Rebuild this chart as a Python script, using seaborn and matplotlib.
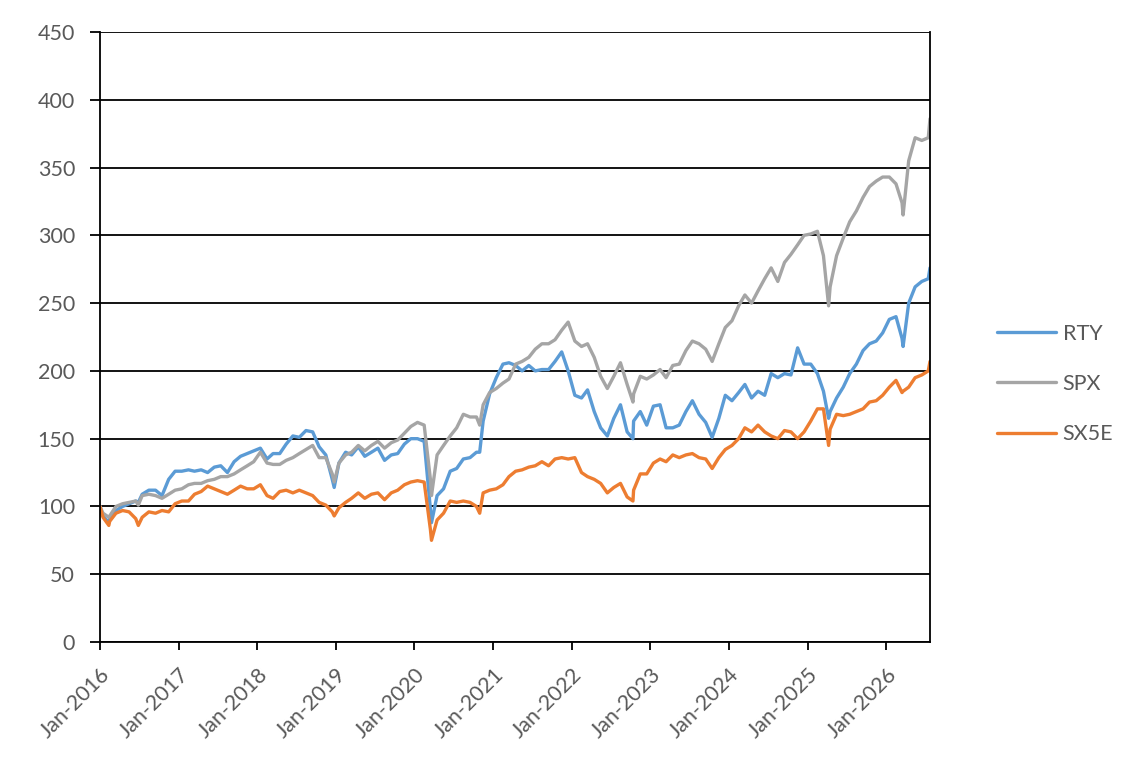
import numpy as np
import pandas as pd
import matplotlib
matplotlib.use("Agg")
import matplotlib.pyplot as plt
import matplotlib.dates as mdates
from matplotlib.lines import Line2D
import seaborn as sns

# ---- data (monthly mid-month levels) ----
start_date = "2016-01-01"
end_date = "2026-07-23"
start_value = 100
rty_end, spx_end, sx5e_end = 276, 386, 207

rty = [93, 91, 97, 100, 102, 104, 109, 112, 112, 108, 120, 126,
       126, 127, 126, 127, 125, 129, 130, 125, 133, 137, 139, 141,
       143, 135, 139, 139, 146, 152, 151, 156, 155, 144, 138, 120,
       132, 140, 138, 144, 137, 140, 143, 134, 138, 139, 146, 150,
       150, 148, 98, 108, 113, 126, 128, 135, 136, 140, 163, 183,
       195, 205, 206, 204, 200, 204, 200, 201, 201, 207, 214, 200,
       182, 180, 186, 170, 158, 152, 165, 175, 155, 163, 170, 160,
       174, 175, 158, 158, 160, 170, 178, 168, 162, 151, 165, 182,
       178, 184, 190, 180, 185, 182, 198, 195, 198, 197, 217, 205,
       205, 198, 185, 170, 180, 188, 198, 205, 215, 220, 222, 228,
       238, 240, 224, 250, 262, 266, 268]
spx = [95, 93, 100, 102, 103, 104, 108, 109, 108, 106, 109, 112,
       113, 116, 117, 117, 119, 120, 122, 122, 124, 127, 130, 133,
       140, 132, 131, 131, 134, 136, 139, 142, 145, 136, 136, 124,
       132, 138, 140, 145, 141, 145, 148, 143, 147, 149, 154, 159,
       162, 160, 120, 138, 145, 152, 158, 168, 166, 166, 175, 184,
       187, 191, 194, 205, 207, 210, 216, 220, 220, 223, 230, 236,
       222, 218, 220, 210, 196, 187, 196, 206, 190, 183, 196, 194,
       197, 201, 195, 204, 205, 215, 222, 220, 216, 207, 220, 232,
       237, 248, 256, 250, 259, 268, 276, 266, 280, 286, 293, 300,
       301, 303, 285, 262, 285, 298, 310, 318, 328, 336, 340, 343,
       343, 338, 324, 355, 372, 370, 372]
sx5e = [92, 89, 95, 97, 96, 91, 92, 96, 95, 97, 96, 102,
        104, 104, 109, 111, 115, 113, 111, 109, 112, 115, 113, 113,
        116, 108, 106, 111, 112, 110, 112, 110, 108, 103, 101, 96,
        99, 103, 106, 110, 106, 109, 110, 105, 110, 112, 116, 118,
        119, 118, 83, 90, 95, 104, 103, 104, 103, 100, 110, 112,
        113, 116, 122, 126, 127, 129, 130, 133, 130, 135, 136, 135,
        136, 125, 122, 120, 117, 110, 114, 117, 107, 112, 124, 124,
        132, 135, 133, 138, 136, 138, 139, 136, 135, 128, 136, 142,
        145, 150, 158, 155, 160, 155, 152, 150, 156, 155, 150, 155,
        163, 172, 172, 157, 168, 167, 168, 170, 172, 177, 178, 182,
        188, 193, 184, 188, 195, 197, 200]

# sharp moves that fall between the monthly readings
event_dates = ["2016-02-11", "2016-06-27", "2018-12-24", "2020-03-20",
               "2020-10-30", "2022-10-12", "2025-04-08", "2026-03-20"]
event_rty = [88, 103, 114, 88, 140, 150, 165, 218]
event_spx = [92, 101, 118, 108, 160, 177, 248, 315]
event_sx5e = [86, 86, 93, 75, 95, 104, 145, 185]

series_names = ["RTY", "SPX", "SX5E"]
colors = {"RTY": "#5B9BD5", "SPX": "#A5A5A5", "SX5E": "#ED7D31"}
y_ticks = list(range(0, 451, 50))

# ---- assemble ----
month_dates = pd.date_range("2016-01-01", periods=len(rty), freq="MS") + pd.Timedelta(days=14)
dates = ([pd.Timestamp(start_date)] + list(month_dates) +
         [pd.Timestamp(d) for d in event_dates] + [pd.Timestamp(end_date)])
vals = {
    "RTY": [start_value] + rty + event_rty + [rty_end],
    "SPX": [start_value] + spx + event_spx + [spx_end],
    "SX5E": [start_value] + sx5e + event_sx5e + [sx5e_end],
}
frames = []
for name in series_names:
    frames.append(pd.DataFrame({"date": dates, "value": vals[name], "index": name}))
df = pd.concat(frames, ignore_index=True).sort_values(["index", "date"])

# ---- plot ----
sns.set_theme(style="white")
plt.rcParams["font.family"] = ["Lato", "DejaVu Sans"]

FS = 15.5
fig = plt.figure(figsize=(11.43, 7.69), dpi=100)
ax = fig.add_axes([100 / 1143, 1 - 642 / 769, 830 / 1143, 610 / 769])

sns.lineplot(data=df, x="date", y="value", hue="index", hue_order=series_names,
             palette=colors, linewidth=2.4, ax=ax, legend=False, sort=True,
             estimator=None)

ax.set_xlim(pd.Timestamp(start_date), pd.Timestamp(end_date))
ax.set_ylim(0, 450)
ax.set_yticks(y_ticks)
ax.yaxis.grid(True, color="black", linewidth=1.3)
ax.xaxis.grid(False)
ax.set_axisbelow(True)
for s in ax.spines.values():
    s.set_color("black")
    s.set_linewidth(1.3)
ax.spines["top"].set_visible(False)

ax.xaxis.set_major_locator(mdates.YearLocator(month=1, day=1))
ax.xaxis.set_major_formatter(mdates.DateFormatter("%b-%Y"))
ax.tick_params(axis="both", which="major", direction="out", length=6, width=1.3,
               color="black", labelcolor="#595959", labelsize=FS, bottom=True, left=True)
ax.tick_params(axis="y", length=7, pad=11)
ax.tick_params(axis="x", length=6, pad=10)
for lbl in ax.get_xticklabels():
    lbl.set_rotation(45)
    lbl.set_ha("right")
    lbl.set_rotation_mode("anchor")
ax.set_xlabel("")
ax.set_ylabel("")

handles = [Line2D([0], [0], color=colors[n], linewidth=2.4) for n in series_names]
leg = fig.legend(handles, series_names, loc="center left",
                 bbox_to_anchor=(997 / 1143, 1 - 384 / 769), frameon=False,
                 fontsize=FS, handlelength=2.75, handletextpad=0.3,
                 labelspacing=1.4, borderpad=0, borderaxespad=0)
for t in leg.get_texts():
    t.set_color("#595959")

fig.savefig("out.png", dpi=100)
